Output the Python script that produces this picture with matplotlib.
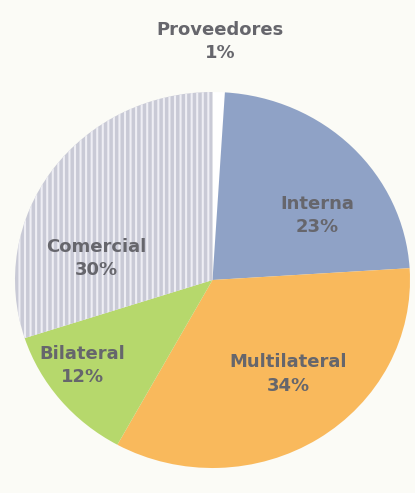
import matplotlib
matplotlib.use("Agg")
import numpy as np
import matplotlib.pyplot as plt

# slices, clockwise from the top
categories = ["Proveedores", "Interna", "Multilateral", "Bilateral", "Comercial"]
shares = [1, 23, 34, 12, 30]
colors = ["#ffffff", "#8fa2c6", "#f9b95c", "#b6d86c", "#c9cad6"]

# label placement: distance from centre and angle nudge (deg)
label_r = [1.27, 0.63, 0.63, 0.8, 0.6]
label_nudge = [0, 12, -5, 5, -25]

plt.rcParams["hatch.color"] = "#eeeef4"
plt.rcParams["hatch.linewidth"] = 1.5

fig = plt.figure(figsize=(4.15, 4.93), dpi=100)
fig.patch.set_facecolor("#fbfbf6")
ax = fig.add_axes([(212 - 197) / 415, (493 - 468) / 493, 395 / 415, 376 / 493])

wedges, _ = ax.pie(shares, colors=colors, startangle=90, counterclock=False,
                   wedgeprops=dict(linewidth=0))
wedges[4].set_hatch("|||")
ax.set_aspect("auto")
ax.set_xlim(-1, 1)
ax.set_ylim(-1, 1)
ax.axis("off")

for i, w in enumerate(wedges):
    mid = np.deg2rad((w.theta1 + w.theta2) / 2 - label_nudge[i])
    x = label_r[i] * np.cos(mid)
    y = label_r[i] * np.sin(mid)
    ax.text(x, y, f"{categories[i]}\n{shares[i]}%", ha="center", va="center",
            fontsize=13, fontweight="bold", color="#66666c",
            family="DejaVu Sans", linespacing=1.4)

fig.savefig("out.png", dpi=100, facecolor=fig.get_facecolor())
